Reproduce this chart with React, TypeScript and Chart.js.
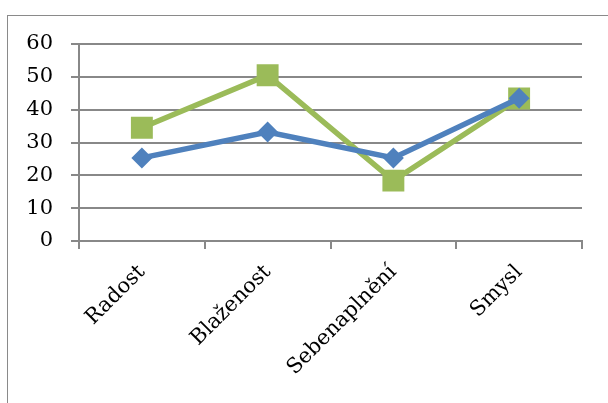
import React, { useEffect, useRef } from "react";
import { Chart, registerables } from "chart.js";

Chart.register(...registerables);

const categories = ["Radost", "Blaženost", "Sebenaplnění", "Smysl"];
const seriesBlue = [25.3, 33.2, 25.3, 43.5];
const seriesGreen = [34.5, 50.5, 18.4, 43.4];
const yTicks = [0, 10, 20, 30, 40, 50, 60];

const XFONT = "'DejaVu Serif', serif";
const YFONT = "'DejaVu Serif', serif";

export default function App() {
  const ref = useRef<HTMLCanvasElement | null>(null);
  useEffect(() => {
    if (!ref.current) return;
    const chart = new Chart(ref.current, {
      type: "line",
      data: {
        labels: categories,
        datasets: [
          {
            label: "A",
            data: seriesBlue,
            borderColor: "#4F81BD",
            backgroundColor: "#4F81BD",
            borderWidth: 5.5,
            pointStyle: "rectRot",
            pointRadius: 10.5,
            pointBorderWidth: 0,
            tension: 0,
          },
          {
            label: "B",
            data: seriesGreen,
            borderColor: "#9BBB59",
            backgroundColor: "#9BBB59",
            borderWidth: 5.5,
            pointStyle: "rect",
            pointRadius: 15.5,
            pointBorderWidth: 0,
            tension: 0,
          },
        ],
      },
      options: {
        animation: false,
        responsive: false,
        events: [],
        layout: { padding: { left: 0, top: 44, right: 26, bottom: 0 } },
        plugins: { legend: { display: false }, tooltip: { enabled: false } },
        scales: {
          x: {
            offset: true,
            grid: {
              offset: true,
              drawOnChartArea: false,
              drawTicks: true,
              tickLength: 8,
              color: "#888888",
              lineWidth: 2,
            },
            border: { display: true, color: "#888888", width: 2 },
            ticks: {
              minRotation: 45,
              maxRotation: 45,
              autoSkip: false,
              padding: 11,
              color: "#000000",
              font: { family: XFONT, size: 21 },
            },
            afterFit: (s: any) => {
              s.height = 162;
            },
          },
          y: {
            min: 0,
            max: 60,
            afterBuildTicks: (s: any) => {
              s.ticks = yTicks.map((v) => ({ value: v }));
            },
            grid: {
              drawTicks: true,
              tickLength: 8,
              color: "#888888",
              lineWidth: 2,
            },
            border: { display: true, color: "#888888", width: 2 },
            ticks: {
              padding: 18,
              color: "#000000",
              font: { family: YFONT, size: 21 },
            },
            afterFit: (s: any) => {
              s.width = 79;
            },
          },
        },
      },
    });
    return () => chart.destroy();
  }, []);
  return (
    <div style={{ position: "absolute", left: 0, top: 0, width: 608, height: 403, overflow: "hidden", background: "#fff" }}>
      <div
        style={{
          position: "absolute",
          left: 7,
          top: 15,
          width: 640,
          height: 440,
          border: "1.5px solid #8a8a8a",
        }}
      />
      <canvas ref={ref} width={608} height={403} style={{ position: "absolute", left: 0, top: 0 }} />
    </div>
  );
}
